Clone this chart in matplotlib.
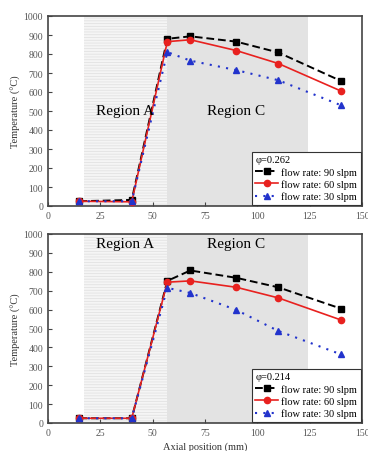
import matplotlib.pyplot as plt
import matplotlib as mpl

mpl.rcParams['font.family'] = ['Liberation Serif', 'DejaVu Serif']
mpl.rcParams['hatch.color'] = '#e4e4e4'
mpl.rcParams['hatch.linewidth'] = 0.6

# axial positions (mm)
x = [15, 40, 57, 68, 90, 110, 140]

# phi = 0.262
top_90 = [25, 32, 880, 893, 865, 808, 658]
top_60 = [25, 22, 865, 875, 818, 750, 605]
top_30 = [25, 25, 810, 765, 715, 662, 530]

# phi = 0.214
bot_90 = [25, 25, 752, 807, 768, 718, 605]
bot_60 = [25, 25, 745, 752, 718, 662, 545]
bot_30 = [25, 25, 715, 688, 598, 487, 363]

labels = ['flow rate: 90 slpm', 'flow rate: 60 slpm', 'flow rate: 30 slpm']
phis = ['φ=0.262', 'φ=0.214']

fig = plt.figure(figsize=(3.68, 4.52), dpi=100)
ax1 = fig.add_axes([48/368, 1 - 207/452, 314/368, 190/452])
ax2 = fig.add_axes([48/368, 1 - 424/452, 314/368, 189/452])

def draw(ax, s90, s60, s30, phi, label_y):
    ax.axvspan(17, 57, facecolor='#f5f5f5', edgecolor='#e2e2e2', hatch='------', lw=0, zorder=0)
    ax.axvspan(57, 124, facecolor='#e3e3e3', lw=0, zorder=0)
    ax.plot(x, s90, color='black', ls=(0, (4, 2)), lw=1.4, marker='s', ms=4, label=labels[0], zorder=3)
    ax.plot(x, s60, color='#e8211f', ls='-', lw=1.2, marker='o', ms=4.5, label=labels[1], zorder=3)
    ax.plot(x, s30, color='#2233cc', ls=(0, (1, 3)), lw=1.5, marker='^', ms=4.5, label=labels[2], zorder=3)
    ax.text(37, label_y, 'Region A', ha='center', va='center', fontsize=11)
    ax.text(90, label_y, 'Region C', ha='center', va='center', fontsize=11)
    ax.set_xlim(0, 150)
    ax.set_ylim(0, 1000)
    ax.set_xticks(range(0, 151, 25))
    ax.set_yticks(range(0, 1001, 100))
    ax.tick_params(direction='in', labelsize=7, length=3, colors='#444444', labelcolor='#555555')
    for sp in ax.spines.values():
        sp.set_linewidth(1.2)
        sp.set_color('#444444')
    ax.set_ylabel('Temperature (°C)', fontsize=7.5, color='#333333', labelpad=2)
    leg = ax.legend(loc='lower right', title=phi, fontsize=7.5, title_fontsize=7.5,
                    frameon=True, fancybox=False, edgecolor='#333333', framealpha=1,
                    borderpad=0.35, labelspacing=0.25, handlelength=2.2, handletextpad=0.3,
                    borderaxespad=0.1)
    leg._legend_box.align = 'left'
    leg.get_frame().set_linewidth(0.8)

draw(ax1, top_90, top_60, top_30, phis[0], 505)
draw(ax2, bot_90, bot_60, bot_30, phis[1], 950)
ax2.set_xlabel('Axial position (mm)', fontsize=7.5, color='#333333', labelpad=3)

fig.savefig('out.png', dpi=100)
